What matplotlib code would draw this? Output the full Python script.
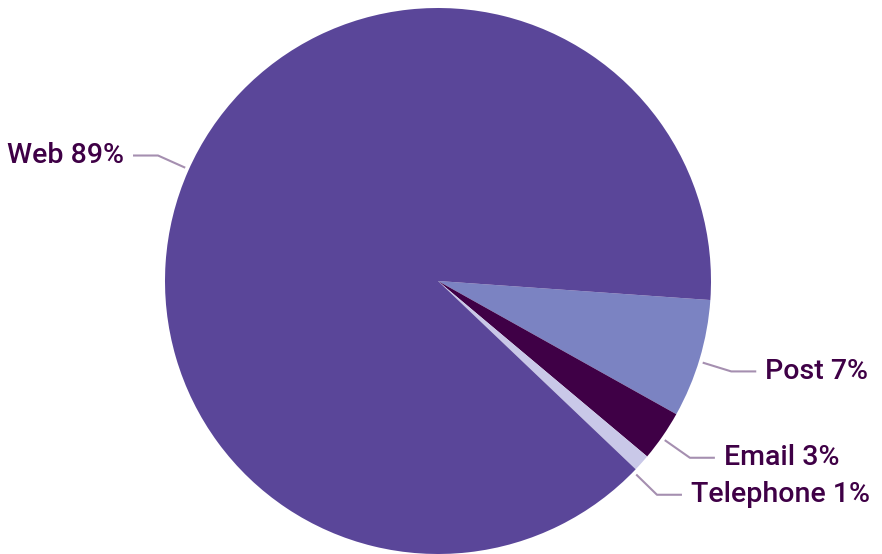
import numpy as np
import matplotlib
matplotlib.use("Agg")
import matplotlib.pyplot as plt

labels = ["Post", "Email", "Telephone", "Web"]
shares = [7, 3, 1, 89]
colors = ["#7b83c2", "#3f0046", "#c9c8e8", "#5a4699"]

text_color = "#3f0046"
line_color = "#a58fb0"

W, H = 882, 554
cx, cy, r = 438, H - 281, 273

fig = plt.figure(figsize=(W / 100, H / 100), dpi=100)
ax = fig.add_axes([0, 0, 1, 1])

wedges, _ = ax.pie(shares, colors=colors, startangle=-4, counterclock=False,
                   center=(cx, cy), radius=r, frame=True,
                   wedgeprops=dict(linewidth=0))
ax.set_xlim(0, W)
ax.set_ylim(0, H)
ax.set_aspect("equal")
ax.axis("off")

# leader lines: short radial piece, then a horizontal run to the label
prev_y = None
for w, lab, val in zip(wedges, labels, shares):
    mid = np.deg2rad((w.theta1 + w.theta2) / 2)
    ex = cx + 306 * np.cos(mid)
    ey = cy + 306 * np.sin(mid) - 3
    right = np.cos(mid) > 0
    if right and prev_y is not None and prev_y - ey < 37:
        ey = prev_y - 37
        ex = cx + np.sqrt(306 ** 2 - (ey - cy) ** 2)
    if right:
        prev_y = ey
    else:
        ey += 5
    ang = np.arctan2(ey - cy, ex - cx)
    sx = cx + 277 * np.cos(ang)
    sy = cy + 277 * np.sin(ang)
    sign = 1 if right else -1
    hx = ex + sign * 25
    ax.plot([sx, ex, hx], [sy, ey, ey], color=line_color, lw=1.5,
            solid_capstyle="butt")
    ax.text(hx + sign * 9, ey, f"{lab} {val}%", color=text_color,
            fontsize=20.5, family="Roboto", fontweight="medium",
            ha="left" if right else "right", va="center")

fig.savefig("out.png", dpi=100)
